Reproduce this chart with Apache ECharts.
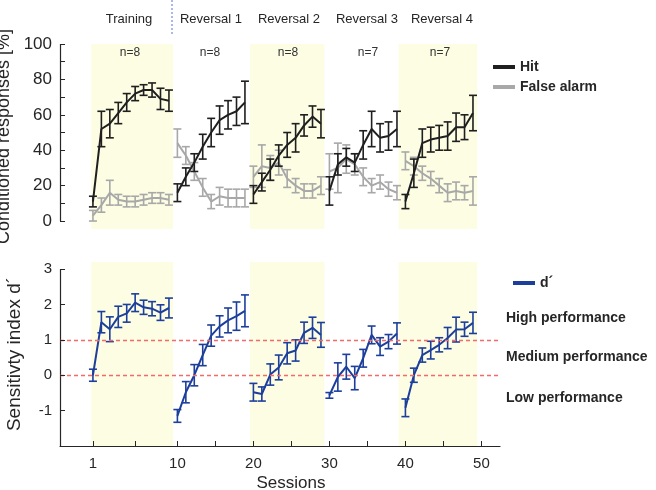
<!DOCTYPE html>
<html>
<head>
<meta charset="utf-8">
<script src="https://cdn.jsdelivr.net/npm/echarts@6/dist/echarts.min.js"></script>
<style>
  html, body { margin: 0; padding: 0; background: #fff; }
  #chart { width: 656px; height: 490px; }
</style>
</head>
<body>
<div id="chart"></div>
<script>
// session index of every plotted point (training 10, then 4 reversals of 9)
const sessions = [1, 2, 3, 4, 5, 6, 7, 8, 9, 10,
  11, 12, 13, 14, 15, 16, 17, 18, 19,
  20, 21, 22, 23, 24, 25, 26, 27, 28,
  29, 30, 31, 32, 33, 34, 35, 36, 37,
  38, 39, 40, 41, 42, 43, 44, 45, 46];
const phaseStarts = [1, 11, 20, 29, 38];
const phaseNames = ['Training', 'Reversal 1', 'Reversal 2', 'Reversal 3', 'Reversal 4'];
const phaseN = ['n=8', 'n=8', 'n=8', 'n=7', 'n=7'];

const hitMean = [11, 52, 55, 61, 67, 72, 74, 74, 69, 68,
  16, 25, 33, 42, 50, 57, 60, 62, 67,
  15, 22, 29, 37, 43, 47, 54, 59, 55,
  17, 32, 36, 33, 43, 52, 47, 48, 52,
  11, 27, 44, 46, 47, 48, 53, 53, 61];
const hitErr = [3, 10, 8, 6, 5, 4, 3, 4, 6, 6,
  5, 5, 5, 7, 8, 8, 8, 8, 12,
  5, 5, 6, 6, 7, 8, 6, 6, 8,
  8, 6, 5, 5, 8, 10, 8, 8, 10,
  4, 8, 8, 7, 7, 8, 8, 7, 10];
const faMean = [3, 9, 16, 12, 11, 11, 12, 13, 13, 12,
  44, 37, 28, 19, 11, 14, 13, 13, 13,
  25, 31, 30, 33, 24, 20, 17, 17, 20,
  28, 30, 35, 32, 25, 20, 22, 18, 16,
  34, 31, 27, 24, 20, 16, 17, 16, 17];
const faErr = [3, 4, 7, 3, 3, 3, 3, 3, 3, 3,
  8, 5, 5, 5, 4, 5, 5, 5, 5,
  6, 12, 7, 7, 5, 4, 4, 4, 5,
  10, 14, 8, 6, 5, 4, 4, 4, 4,
  5, 5, 4, 4, 4, 5, 5, 4, 8];
const dMean = [0.0, 1.5, 1.3, 1.65, 1.75, 2.05, 1.92, 1.88, 1.77, 1.9,
  -1.15, -0.48, 0.0, 0.57, 1.12, 1.38, 1.55, 1.67, 1.82,
  -0.48, -0.53, 0.02, 0.22, 0.62, 0.7, 1.2, 1.34, 1.14,
  -0.57, -0.05, 0.24, -0.08, 0.48, 1.14, 0.81, 0.95, 1.18,
  -0.92, 0.0, 0.57, 0.71, 0.86, 1.05, 1.29, 1.3, 1.48];
const dErr = [0.17, 0.3, 0.35, 0.3, 0.25, 0.25, 0.2, 0.2, 0.22, 0.28,
  0.18, 0.3, 0.3, 0.3, 0.3, 0.3, 0.35, 0.4, 0.45,
  0.25, 0.2, 0.3, 0.35, 0.3, 0.3, 0.3, 0.3, 0.35,
  0.08, 0.4, 0.35, 0.33, 0.25, 0.25, 0.25, 0.2, 0.3,
  0.25, 0.2, 0.2, 0.25, 0.2, 0.3, 0.35, 0.2, 0.3];

const xTickPos = [1, 11, 20, 29, 38, 47];
const xTickLabels = ['1', '10', '20', '30', '40', '50'];
const xMinorTicks = [1, 6, 11, 15.5, 20, 24.5, 29, 33.5, 38, 42.5, 47];
const shadedPhases = [[0.8, 10.5], [19.6, 28.4], [37.2, 46.5]];

const X_MIN = -2.9, X_MAX = 49.2;
const FONT = 'Liberation Sans, Arial, sans-serif';
const TXT = '#262626';
const HIT = '#1f1f1f', FA = '#a8a8a8', DCOL = '#1c3f9c';
const YELLOW = '#fdfde3';

// line data with a break between phases
function lineData(vals) {
  const out = [];
  sessions.forEach((s, i) => {
    if (i > 0 && phaseStarts.indexOf(s) >= 0) out.push([s - 0.5, '-']);
    out.push([s, vals[i]]);
  });
  return out;
}
function errData(vals, errs) {
  return sessions.map((s, i) => [s, vals[i], errs[i]]);
}
function errSeries(name, vals, errs, color, idx) {
  return {
    type: 'custom', name: name, xAxisIndex: idx, yAxisIndex: idx,
    data: errData(vals, errs), silent: true, z: 3,
    renderItem: function (params, api) {
      const x = api.value(0), m = api.value(1), e = api.value(2);
      const lo = api.coord([x, m - e]), hi = api.coord([x, m + e]);
      const w = 4;
      const st = { stroke: color, lineWidth: 1.6 };
      return {
        type: 'group', children: [
          { type: 'line', shape: { x1: lo[0], y1: lo[1], x2: hi[0], y2: hi[1] }, style: st },
          { type: 'line', shape: { x1: lo[0] - w, y1: lo[1], x2: lo[0] + w, y2: lo[1] }, style: st },
          { type: 'line', shape: { x1: hi[0] - w, y1: hi[1], x2: hi[0] + w, y2: hi[1] }, style: st }
        ]
      };
    }
  };
}
function bands() {
  return {
    silent: true,
    itemStyle: { color: YELLOW },
    data: shadedPhases.map(p => [{ xAxis: p[0] }, { xAxis: p[1] }])
  };
}

const chart = echarts.init(document.getElementById('chart'), null, { renderer: 'canvas' });

const phaseCentres = [129, 211, 289, 367, 442];
const nCentres = [130, 210, 288, 368, 440];
const graphics = [];
phaseNames.forEach((t, i) => {
  graphics.push({ type: 'text', z: 100, style: { text: t, x: phaseCentres[i], y: 19, align: 'center', verticalAlign: 'middle', fill: TXT, font: '13px ' + FONT } });
  graphics.push({ type: 'text', z: 100, style: { text: phaseN[i], x: nCentres[i], y: 53, align: 'center', verticalAlign: 'middle', fill: '#333', font: '12px ' + FONT } });
});
graphics.push({ type: 'line', z: 100, shape: { x1: 172, y1: 0, x2: 172, y2: 36 }, style: { stroke: '#5a6ee0', lineWidth: 1, lineDash: [2, 2] } });
[['High performance', 318], ['Medium performance', 357], ['Low performance', 398]].forEach(p => {
  graphics.push({ type: 'text', z: 100, style: { text: p[0], x: 506, y: p[1], verticalAlign: 'middle', fill: TXT, font: 'bold 14px ' + FONT } });
});

const option = {
  animation: false,
  backgroundColor: '#fff',
  textStyle: { fontFamily: FONT },
  graphic: graphics,
  legend: [
    {
      data: ['Hit', 'False alarm'], orient: 'vertical', left: 488, top: 54,
      icon: 'rect', itemWidth: 22, itemHeight: 4, itemGap: 4, selectedMode: false,
      textStyle: { fontSize: 14, fontWeight: 'bold', color: TXT, lineHeight: 16, fontFamily: FONT }
    },
    {
      data: ['d´'], orient: 'vertical', left: 508, top: 270,
      icon: 'rect', itemWidth: 22, itemHeight: 4, selectedMode: false,
      textStyle: { fontSize: 14, fontWeight: 'bold', color: TXT, lineHeight: 16, fontFamily: FONT }
    }
  ],
  grid: [
    { left: 60, right: 156, top: 44, bottom: 261, outerBoundsMode: 'none' },
    { left: 60, right: 156, top: 262, bottom: 44, outerBoundsMode: 'none' }
  ],
  xAxis: [
    { type: 'value', gridIndex: 0, min: X_MIN, max: X_MAX, show: false, axisLine: { onZero: false } },
    {
      type: 'value', gridIndex: 1, min: X_MIN, max: X_MAX, z: 10,
      name: 'Sessions', nameLocation: 'middle', nameGap: 29,
      nameTextStyle: { fontSize: 17, color: TXT, padding: [0, 0, 0, 22] },
      axisLine: { onZero: false, lineStyle: { color: TXT, width: 1.2 } },
      axisTick: { inside: true, length: 5, customValues: xMinorTicks, lineStyle: { color: TXT, width: 1 } },
      axisLabel: {
        customValues: xTickPos, fontSize: 15, color: TXT, margin: 10,
        formatter: v => xTickLabels[xTickPos.indexOf(v)]
      },
      splitLine: { show: false }
    }
  ],
  yAxis: [
    {
      type: 'value', gridIndex: 0, min: -4.5, max: 100, z: 10,
      name: 'Conditioned responses [%]', nameLocation: 'middle', nameGap: 37,
      nameTextStyle: { fontSize: 18, color: TXT },
      axisLine: { show: true, onZero: false, lineStyle: { color: 'rgba(0,0,0,0)' } },
      axisTick: { show: true, inside: true, length: 5, customValues: [0, 10, 20, 30, 40, 50, 60, 70, 80, 90, 100], lineStyle: { color: TXT, width: 1 } },
      axisLabel: { customValues: [0, 20, 40, 60, 80, 100], fontSize: 17, color: TXT, margin: 8 },
      splitLine: { show: false }
    },
    {
      type: 'value', gridIndex: 1, min: -2, max: 3.2, z: 10,
      name: 'Sensitivty index d´', nameLocation: 'middle', nameGap: 36,
      nameTextStyle: { fontSize: 19, color: TXT },
      axisLine: { show: true, onZero: false, lineStyle: { color: 'rgba(0,0,0,0)' } },
      axisTick: { show: true, inside: true, length: 5, customValues: [-1, 0, 1, 2, 3], lineStyle: { color: TXT, width: 1 } },
      axisLabel: { customValues: [-1, 0, 1, 2, 3], fontSize: 15, color: TXT, margin: 8 },
      splitLine: { show: false }
    }
  ],
  series: [
    {
      type: 'line', name: 'False alarm', xAxisIndex: 0, yAxisIndex: 0,
      data: lineData(faMean), showSymbol: false, connectNulls: false, z: 3,
      itemStyle: { color: FA }, lineStyle: { color: FA, width: 2 },
      markArea: bands(),
      markLine: {
        silent: true, symbol: 'none', label: { show: false },
        lineStyle: { color: TXT, width: 1.2, type: 'solid' },
        data: [[{ coord: [X_MIN, 0] }, { coord: [X_MIN, 100] }]]
      }
    },
    errSeries('False alarm', faMean, faErr, FA, 0),
    {
      type: 'line', name: 'Hit', xAxisIndex: 0, yAxisIndex: 0,
      data: lineData(hitMean), showSymbol: false, connectNulls: false, z: 4,
      itemStyle: { color: HIT }, lineStyle: { color: HIT, width: 2 }
    },
    Object.assign(errSeries('Hit', hitMean, hitErr, HIT, 0), { z: 4 }),
    {
      type: 'line', name: 'd´', xAxisIndex: 1, yAxisIndex: 1,
      data: lineData(dMean), showSymbol: false, connectNulls: false, z: 4,
      itemStyle: { color: DCOL }, lineStyle: { color: DCOL, width: 2 },
      markArea: bands(),
      markLine: {
        silent: true, symbol: 'none', label: { show: false },
        data: [
          [{ coord: [X_MIN, -2] }, { coord: [X_MIN, 3], lineStyle: { color: TXT, width: 1.2, type: 'solid' } }],
          [{ coord: [X_MIN, 1] }, { coord: [X_MAX, 1], lineStyle: { color: '#f26a6a', width: 1.4, type: [4, 3] } }],
          [{ coord: [X_MIN, 0] }, { coord: [X_MAX, 0], lineStyle: { color: '#f26a6a', width: 1.4, type: [4, 3] } }]
        ]
      }
    },
    Object.assign(errSeries('d´', dMean, dErr, DCOL, 1), { z: 4 })
  ]
};

chart.setOption(option);
</script>
</body>
</html>
